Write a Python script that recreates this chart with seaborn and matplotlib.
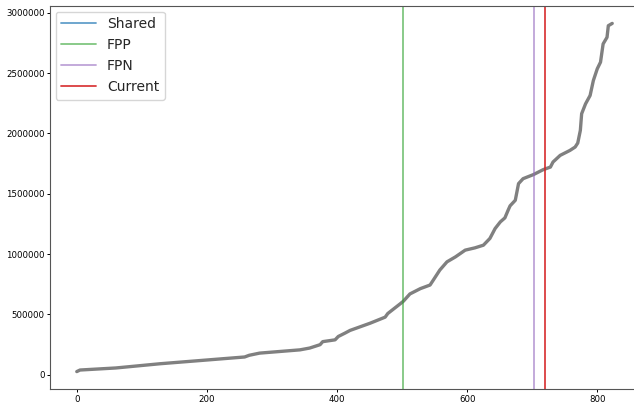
import matplotlib
matplotlib.use('Agg')
import matplotlib.pyplot as plt
import pandas as pd
import seaborn as sns

# sorted values
idx = [0, 5, 60, 128, 200, 258, 265, 281, 343, 358, 374, 378, 397, 402, 412, 420,
       451, 474, 478, 497, 502, 512, 528, 543, 548, 558, 569, 582, 597, 612, 625,
       635, 643, 651, 658, 663, 666, 674, 679, 686, 702, 717, 728, 732, 743, 758,
       766, 770, 774, 776, 782, 789, 794, 800, 805, 809, 815, 817, 823]
values = [27000, 40000, 57000, 92000, 123000, 148000, 162000, 180000, 207000, 222000,
          250000, 275000, 290000, 318000, 345000, 368000, 428000, 478000, 508000,
          588000, 610000, 670000, 714000, 744000, 785000, 868000, 936000, 977000,
          1033000, 1052000, 1074000, 1130000, 1212000, 1267000, 1300000, 1364000,
          1400000, 1446000, 1584000, 1625000, 1659000, 1700000, 1721000, 1763000,
          1818000, 1859000, 1887000, 1920000, 2025000, 2163000, 2245000, 2314000,
          2438000, 2535000, 2590000, 2741000, 2796000, 2892000, 2911000]

markers = ['Shared', 'FPP', 'FPN', 'Current']
marker_x = [None, 502, 703, 719]
marker_colors = ['#1f77b4', '#2ca02c', '#9467bd', '#d62728']
marker_alpha = [0.7, 0.6, 0.6, 0.9]

df = pd.DataFrame({'i': idx, 'v': values})

sns.set_style('ticks')
plt.rcParams['font.family'] = ['DejaVu Sans']

fig = plt.figure(figsize=(6.34, 4.04), dpi=100)
ax = fig.add_axes([50 / 634, 15 / 404, 589 / 634, 383 / 404])

sns.lineplot(data=df, x='i', y='v', ax=ax, color='gray', linewidth=2.4)

for name, xv, c, a in zip(markers, marker_x, marker_colors, marker_alpha):
    if xv is None:
        ax.plot([], [], color=c, alpha=a, label=name, linewidth=1.3)
    else:
        ax.axvline(xv, color=c, alpha=a, label=name, linewidth=1.3)

ax.set_xlabel('')
ax.set_ylabel('')
ax.ticklabel_format(style='plain', axis='y')
ax.tick_params(labelsize=6.2, length=2.5, width=0.7, pad=1.5, colors='black')
for s in ax.spines.values():
    s.set_color('#555555')
    s.set_linewidth(0.8)
ax.legend(loc='upper left', fontsize=10, handlelength=2.5, borderaxespad=0.4)

fig.savefig('out.png', dpi=100)
